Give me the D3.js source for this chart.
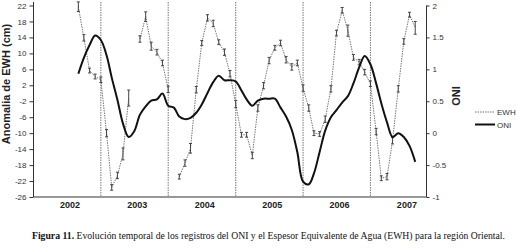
<!DOCTYPE html>
<html>
<head>
<meta charset="utf-8">
<script src="https://cdn.jsdelivr.net/npm/d3@7"></script>
<style>
  body { margin: 0; background: #fff; }
  svg { display: block; }
</style>
</head>
<body>
<div class="chart"></div>
<script>
// monthly series, first value = Sep 2002, last = Sep 2007
const firstMonth = new Date(2002, 8, 1);

// EWH anomaly (cm), null = no GRACE solution
const ewh = [
  21.7, 13.9, 5.7, 4.2, 3.4, -10, -23.6, -20.6, -15.2, -1.2,
  null, 13.6, 19.2, 11.8, 10.3, 7.6, 1.0, null, -20.9, -17.5,
  -13.8, 0.9, 12.6, 18.9, 17.5, 12.8, 10.3, 4.9, -2.7, -10.4,
  -10.4, -15.6, -3.7, 1.9, 8.2, 11.4, 12.6, 8.4, 6.6, 7.6,
  1.3, -3.7, -10, -10.2, -6.5, 1.1, 15.1, 20.8, 15.7, 9,
  7.8, 5.3, 2.4, -9.6, -21.3, -20.9, -11.9, 1.1, 13, 19.7,
  16.4
];
// EWH error (cm)
const ewhErr = [
  1.2, 0.8, 0.6, 0.6, 0.7, 0.9, 0.7, 0.8, 1.5, 2.0,
  null, 0.8, 1.2, 1.0, 0.7, 0.7, 0.8, null, 0.6, 0.8,
  1.2, 0.8, 0.6, 0.8, 0.8, 0.6, 0.8, 0.8, 0.9, 0.6,
  0.6, 0.8, 0.8, 0.8, 0.8, 0.6, 0.7, 0.8, 0.8, 0.7,
  0.8, 0.8, 0.6, 0.6, 0.8, 0.8, 0.7, 0.7, 1.4, 0.7,
  0.7, 0.7, 0.7, 0.8, 0.6, 0.8, 0.8, 0.8, 0.7, 0.6,
  1.6
];
// ONI
const oni = [
  0.93, 1.18, 1.38, 1.53, 1.46, 1.22, 0.87, 0.52, 0.15, -0.06,
  0.03, 0.29, 0.42, 0.51, 0.53, 0.62, 0.43, 0.40, 0.26, 0.22,
  0.24, 0.32, 0.45, 0.63, 0.80, 0.90, 0.83, 0.83, 0.81, 0.67,
  0.53, 0.43, 0.51, 0.54, 0.54, 0.54, 0.40, 0.26, 0.05, -0.30,
  -0.76, -0.80, -0.63, -0.29, 0.04, 0.25, 0.36, 0.48, 0.58, 0.78,
  1.03, 1.21, 1.08, 0.78, 0.47, 0.17, -0.06, 0.0, -0.06, -0.20,
  -0.45
];
const years = [2002, 2003, 2004, 2005, 2006, 2007];
const leftTicks = [22, 18, 14, 10, 6, 2, -2, -6, -10, -14, -18, -22, -26];
const rightTicks = [2, 1.5, 1, 0.5, 0, -0.5, -1];

const months = ewh.map((d, i) => d3.timeMonth.offset(firstMonth, i));
const fmt = d => String(d);

const svg = d3.select(".chart").append("svg")
  .attr("width", 516).attr("height", 248)
  .style("font-family", "Arial, 'Liberation Sans', sans-serif");

const x = d3.scaleTime()
  .domain([new Date(2002, 0, 1), new Date(2007, 10, 1)])
  .range([33.5, 426.5]);
const yL = d3.scaleLinear().domain([-26, 22]).range([197, 5.5]);
const yR = d3.scaleLinear().domain([-1, 2]).range([197, 5.5]);

// year separators
svg.append("g").selectAll("line")
  .data(years.slice(1).map(y => new Date(y, 0, 1)))
  .join("line")
  .attr("x1", d => x(d)).attr("x2", d => x(d))
  .attr("y1", 2).attr("y2", 197)
  .attr("stroke", "#777").attr("stroke-width", 1)
  .attr("stroke-dasharray", "1.5,1");

// left axis
const gl = svg.append("g").attr("transform", "translate(33.5,0)")
  .call(d3.axisLeft(yL).tickValues(leftTicks).tickSize(4).tickPadding(3).tickFormat(fmt));
gl.select(".domain").attr("d", "M0,2V197").attr("stroke", "#333");
gl.selectAll(".tick line").attr("stroke", "#333");
gl.selectAll("text").attr("font-size", 8).attr("fill", "#333")
  .attr("font-family", "Arial, 'Liberation Sans', sans-serif");

// right axis
const gr = svg.append("g").attr("transform", "translate(426.5,0)")
  .call(d3.axisRight(yR).tickValues(rightTicks).tickSize(3).tickPadding(3).tickFormat(fmt));
gr.select(".domain").attr("d", "M0,5.5V197").attr("stroke", "#333");
gr.selectAll(".tick line").attr("stroke", "#333");
gr.selectAll("text").attr("font-size", 8).attr("fill", "#333")
  .attr("font-family", "Arial, 'Liberation Sans', sans-serif");

// bottom axis
const gb = svg.append("g").attr("transform", "translate(0,197)")
  .call(d3.axisBottom(x).tickValues(years.map(y => new Date(y, 6, 15)))
    .tickSize(0).tickPadding(5).tickFormat(d3.timeFormat("%Y")));
gb.select(".domain").attr("d", "M33.5,0H426.5").attr("stroke", "#333").attr("stroke-width", 1.2);
gb.selectAll("text").attr("font-size", 9).attr("font-weight", "bold").attr("fill", "#222")
  .attr("font-family", "Arial, 'Liberation Sans', sans-serif");

// EWH line
svg.append("path")
  .datum(ewh.map((v, i) => ({ t: months[i], v })))
  .attr("fill", "none")
  .attr("stroke", "#777")
  .attr("stroke-width", 1)
  .attr("stroke-dasharray", "1.5,1")
  .attr("d", d3.line().defined(d => d.v !== null).x(d => x(d.t)).y(d => yL(d.v)));

// EWH error bars
const eb = svg.append("g").selectAll("g")
  .data(ewh.map((v, i) => ({ t: months[i], v, e: ewhErr[i] })).filter(d => d.v !== null))
  .join("g")
  .attr("stroke", "#444").attr("stroke-width", 1);
eb.append("line")
  .attr("x1", d => x(d.t)).attr("x2", d => x(d.t))
  .attr("y1", d => yL(d.v + d.e)).attr("y2", d => yL(d.v - d.e));
eb.append("line")
  .attr("x1", d => x(d.t) - 1.5).attr("x2", d => x(d.t) + 1.5)
  .attr("y1", d => yL(d.v + d.e)).attr("y2", d => yL(d.v + d.e));
eb.append("line")
  .attr("x1", d => x(d.t) - 1.5).attr("x2", d => x(d.t) + 1.5)
  .attr("y1", d => yL(d.v - d.e)).attr("y2", d => yL(d.v - d.e));

// ONI line
svg.append("path")
  .datum(oni.map((v, i) => ({ t: months[i], v })))
  .attr("fill", "none")
  .attr("stroke", "#111")
  .attr("stroke-width", 2)
  .attr("d", d3.line().curve(d3.curveCatmullRom).x(d => x(d.t)).y(d => yR(d.v)));

// axis titles
svg.append("text")
  .attr("transform", "translate(10,84) rotate(-90)")
  .attr("text-anchor", "middle")
  .attr("font-size", 11).attr("font-weight", "bold").attr("fill", "#222")
  .text("Anomalia de EWH (cm)");
svg.append("text")
  .attr("transform", "translate(460,96) rotate(-90)")
  .attr("text-anchor", "middle")
  .attr("font-size", 11).attr("font-weight", "bold").attr("fill", "#222")
  .text("ONI");

// legend
const legend = svg.append("g").attr("transform", "translate(475,112)");
legend.append("line").attr("x1", 0).attr("x2", 20).attr("y1", 0).attr("y2", 0)
  .attr("stroke", "#777").attr("stroke-dasharray", "1.5,1");
legend.append("text").attr("x", 22).attr("y", 3).attr("font-size", 8).attr("fill", "#333").text("EWH");
legend.append("line").attr("x1", 0).attr("x2", 20).attr("y1", 12.5).attr("y2", 12.5)
  .attr("stroke", "#111").attr("stroke-width", 2);
legend.append("text").attr("x", 22).attr("y", 15.5).attr("font-size", 8).attr("fill", "#333").text("ONI");

// caption
const cap = svg.append("text")
  .attr("x", 32).attr("y", 239)
  .attr("font-family", "'Liberation Serif', 'Times New Roman', serif")
  .attr("font-size", 9.5).attr("fill", "#111")
  .attr("textLength", 473).attr("lengthAdjust", "spacingAndGlyphs");
cap.append("tspan").attr("font-weight", "bold").text("Figura 11.");
cap.append("tspan").text(" Evolución temporal de los registros del ONI y el Espesor Equivalente de Agua (EWH) para la región Oriental.");
</script>
</body>
</html>
